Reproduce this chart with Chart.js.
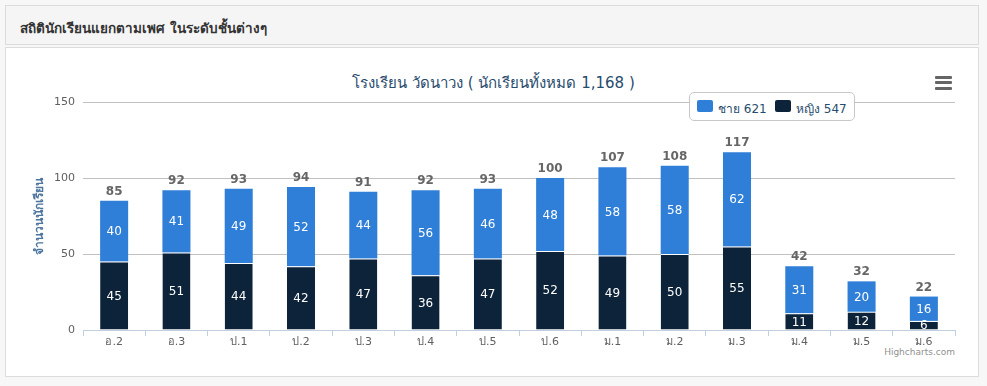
<!DOCTYPE html>
<html>
<head>
<meta charset="utf-8">
<script src="https://cdn.jsdelivr.net/npm/chart.js@4.4.1/dist/chart.umd.min.js"></script>
<style>
  html, body { margin:0; padding:0; width:987px; height:386px; overflow:hidden; background:#f7f7f7; font-family:"DejaVu Sans","Noto Sans",sans-serif; }
  #header { position:absolute; left:5px; top:5px; width:972px; height:38px; background:#f5f5f5; border:1px solid #dcdcdc; }
  #header span { position:absolute; left:14px; top:11px; font-size:13.5px; font-weight:bold; color:#333; }
  #panel { position:absolute; left:5px; top:47px; width:972px; height:328px; background:#fff; border:1px solid #dcdcdc; }
  #title { position:absolute; left:0; width:987px; top:71px; text-align:center; font-size:15px; color:#274b6d; }
  #legend { position:absolute; left:689px; top:92px; width:164px; height:27px; border:1px solid #c8c8c8; border-radius:5px; background:#fff; font-size:12px; color:#274b6d; }
  .sym { position:absolute; top:7px; width:16px; height:12px; border-radius:2px; }
  .lt { position:absolute; top:6px; white-space:nowrap; }
  #menu div { position:absolute; left:935px; width:17px; height:3px; background:#666; border-radius:1px; }
  #credits { position:absolute; right:32px; top:347px; font-size:9px; color:#909090; }
  canvas { position:absolute; left:0; top:0; }
</style>
</head>
<body>
<div id="header"><span>สถิตินักเรียนแยกตามเพศ ในระดับชั้นต่างๆ</span></div>
<div id="panel"></div>
<div id="title">โรงเรียน วัดนาวง ( นักเรียนทั้งหมด 1,168 )</div>
<div id="menu"><div style="top:76px"></div><div style="top:81px"></div><div style="top:87px"></div></div>
<div id="credits">Highcharts.com</div>
<canvas id="c" width="987" height="386"></canvas>
<div id="legend">
  <div class="sym" style="left:7px;background:#2f7ed8"></div><div class="lt" id="l1" style="left:28px"></div>
  <div class="sym" style="left:85px;background:#0d233a"></div><div class="lt" id="l2" style="left:106px"></div>
</div>
<script>
const categories = ["อ.2","อ.3","ป.1","ป.2","ป.3","ป.4","ป.5","ป.6","ม.1","ม.2","ม.3","ม.4","ม.5","ม.6"];
const male   = [40,41,49,52,44,56,46,48,58,58,62,31,20,16];
const female = [45,51,44,42,47,36,47,52,49,50,55,11,12,6];
const yTicks = [0,50,100,150];
const seriesNames = ["ชาย","หญิง"];

const sum = a => a.reduce((s,v)=>s+v,0);
document.getElementById('l1').textContent = seriesNames[0] + " " + sum(male);
document.getElementById('l2').textContent = seriesNames[1] + " " + sum(female);

const labelPlugin = {
  id: 'labels',
  afterDatasetsDraw(chart) {
    const ctx = chart.ctx;
    ctx.save();
    ctx.textAlign = 'center';
    ctx.textBaseline = 'middle';
    ctx.font = '12px "DejaVu Sans", sans-serif';
    ctx.fillStyle = '#fff';
    chart.data.datasets.forEach((ds, i) => {
      const meta = chart.getDatasetMeta(i);
      meta.data.forEach((bar, j) => {
        ctx.fillText(String(ds.data[j]), bar.x, (bar.y + bar.base) / 2 + 1);
      });
    });
    const top = chart.getDatasetMeta(chart.data.datasets.length - 1);
    ctx.font = 'bold 12px "DejaVu Sans", sans-serif';
    ctx.fillStyle = '#666';
    ctx.textBaseline = 'bottom';
    top.data.forEach((bar, j) => {
      ctx.fillText(String(male[j] + female[j]), bar.x, bar.y - 3);
    });
    ctx.restore();
  }
};

new Chart(document.getElementById('c'), {
  type: 'bar',
  data: {
    labels: categories,
    datasets: [
      { label: seriesNames[1], data: female, backgroundColor: '#0d233a', borderColor: '#ffffff', borderWidth: {top:1,left:0,right:0,bottom:0}, borderSkipped: false },
      { label: seriesNames[0], data: male, backgroundColor: '#2f7ed8', borderColor: '#ffffff', borderWidth: 0 }
    ]
  },
  options: {
    responsive: false,
    animation: false,
    events: [],
    layout: { padding: { left: 29, right: 32, top: 102, bottom: 36 } },
    datasets: { bar: { categoryPercentage: 1, barPercentage: 0.45 } },
    plugins: { legend: { display: false }, title: { display: false }, tooltip: { enabled: false } },
    scales: {
      x: {
        stacked: true,
        grid: { offset: true, drawOnChartArea: false, drawTicks: true, tickLength: 6, color: '#c0d0e0' },
        border: { display: true, color: '#c0d0e0' },
        ticks: { color: '#606060', font: { size: 11, family: '"DejaVu Sans", sans-serif' }, padding: 0, maxRotation: 0, autoSkip: false },
        afterFit: s => { s.height = 20; }
      },
      y: {
        stacked: true,
        min: 0, max: 150,
        afterBuildTicks: s => { s.ticks = yTicks.map(v => ({ value: v })); },
        grid: { color: '#c0c0c0', drawTicks: false },
        border: { display: false },
        ticks: { color: '#606060', font: { size: 11, family: '"DejaVu Sans", sans-serif' }, padding: 8 },
        title: { display: true, text: 'จำนวนนักเรียน', color: '#4d759e', font: { size: 12, weight: 'bold', family: '"DejaVu Sans", sans-serif' } },
        afterFit: s => { s.width = 54; }
      }
    }
  },
  plugins: [labelPlugin]
});
</script>
</body>
</html>
